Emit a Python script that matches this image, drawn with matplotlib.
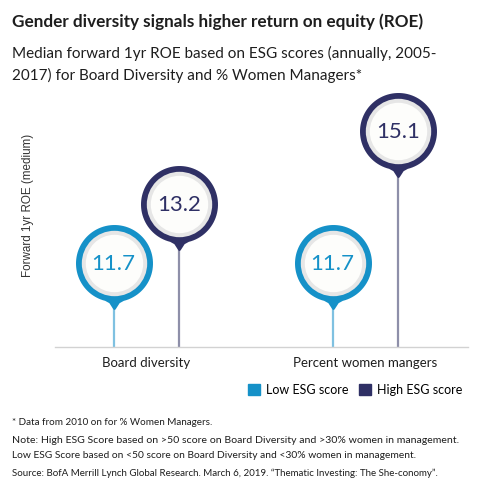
import numpy as np
import matplotlib
matplotlib.use('Agg')
from matplotlib import pyplot as plt
from matplotlib.path import Path
from matplotlib.patches import Patch

# ---- data ----
categories = ['Board diversity', 'Percent women mangers']
low_esg = [11.7, 11.7]
high_esg = [13.2, 15.1]
series_names = ['Low ESG score', 'High ESG score']

title = 'Gender diversity signals higher return on equity (ROE)'
subtitle = ['Median forward 1yr ROE based on ESG scores (annually, 2005-',
            '2017) for Board Diversity and % Women Managers*']
ylabel = 'Forward 1yr ROE (medium)'
notes = ['* Data from 2010 on for % Women Managers.',
         'Note: High ESG Score based on >50 score on Board Diversity and >30% women in management.',
         'Low ESG Score based on <50 score on Board Diversity and <30% women in management.',
         'Source: BofA Merrill Lynch Global Research. March 6, 2019. \u201cThematic Investing: The She-conomy\u201d.']

# ---- styles ----
LOW = '#1591c8'
HIGH = '#2f3065'
LOW_STEM = '#7fc1e1'
HIGH_STEM = '#8e8fa9'
RING = '#e6e6e6'
INNER = '#fdfdfb'
TXT = '#1e1e1e'
FONT = 'Lato'

W, H = 478, 502


def fy(px):
    """figure fraction from a pixel row measured from the top"""
    return 1 - px / H


def pin_marker(tip=1.21, half_angle=14):
    """circle with a small pointed tip at the bottom (unit radius)"""
    a = np.deg2rad(np.linspace(-90 + half_angle, 270 - half_angle, 90))
    verts = np.column_stack([np.cos(a), np.sin(a)])
    # slightly concave flanks down to the tip
    s = np.sin(np.deg2rad(half_angle))
    c = np.cos(np.deg2rad(half_angle))
    left = [(-s * 0.55, -c - 0.06), (-0.03, -tip + 0.02)]
    right = [(0.03, -tip + 0.02), (s * 0.55, -c - 0.06)]
    verts = np.vstack([verts, left, [0, -tip], right, verts[:1]])
    return Path(verts, closed=True), tip


fig = plt.figure(figsize=(W / 100, H / 100), dpi=100)
ax = fig.add_axes([55 / W, 1 - 348 / H, 413 / W, 258 / H])

x = np.arange(len(categories))
off = 0.15
ymin, ymax = 9.52, 16.18
ax.set_xlim(-0.418, 1.468)
ax.set_ylim(ymin, ymax)

path, tip = pin_marker()
pt = 0.72                      # points per pixel at 100 dpi
ms_pin = 2 * 38.5 * pt * tip   # outer radius of pin head 38.5 px
ms_ring = 2 * 32.7 * pt
ms_inner = 2 * 28.7 * pt

for xs, vals, col, stem in [(x - off, low_esg, LOW, LOW_STEM),
                            (x + off, high_esg, HIGH, HIGH_STEM)]:
    ax.vlines(xs, ymin, vals, color=stem, lw=1.6, zorder=1)
    ax.plot(xs, vals, ls='none', marker=path, ms=ms_pin, mfc=col, mew=0, zorder=3)
    ax.plot(xs, vals, ls='none', marker='o', ms=ms_ring, mfc=RING, mew=0, zorder=4)
    ax.plot(xs, vals, ls='none', marker='o', ms=ms_inner, mfc=INNER, mew=0, zorder=5)
    for xi, v in zip(xs, vals):
        ax.text(xi, v, f'{v:.1f}', ha='center', va='center', color=col,
                fontsize=16, family=FONT, zorder=6)

for s in ['top', 'right', 'left']:
    ax.spines[s].set_visible(False)
ax.spines['bottom'].set_color('#d2d2d2')
ax.spines['bottom'].set_linewidth(1.0)
ax.set_yticks([])
ax.set_xticks(x)
ax.set_xticklabels(categories, fontsize=9.5, family=FONT, color=TXT)
ax.tick_params(axis='x', length=0, pad=6.5)
ax.set_ylabel(ylabel, fontsize=8.4, family='Liberation Sans', color='#333333')
ax.yaxis.set_label_coords(-0.052, 0.554)

# ---- titles ----
fig.text(12 / W, fy(27), title, fontsize=12.3, fontweight='bold', family=FONT,
         color=TXT, va='baseline')
for i, line in enumerate(subtitle):
    fig.text(12 / W, fy(58 + 22 * i), line, fontsize=11, family=FONT,
             color=TXT, va='baseline')

# ---- legend ----
handles = [Patch(color=LOW), Patch(color=HIGH)]
fig.legend(handles, series_names, loc='center right',
           bbox_to_anchor=(462 / W, fy(390.5)), frameon=False, ncol=2,
           handlelength=1.0, handleheight=1.0, handletextpad=0.45,
           columnspacing=0.8, borderpad=0, borderaxespad=0,
           prop={'family': FONT, 'size': 9})

# ---- footnotes (sizes nudged per line so the widths follow the original) ----
note_sizes = [7.1, 7.55, 7.35, 7.0]
for txt, base, fs in zip(notes, [425, 443, 458, 476], note_sizes):
    fig.text(12 / W, fy(base), txt, fontsize=fs, family=FONT, color=TXT,
             va='baseline')

fig.savefig('out.png', dpi=100)
